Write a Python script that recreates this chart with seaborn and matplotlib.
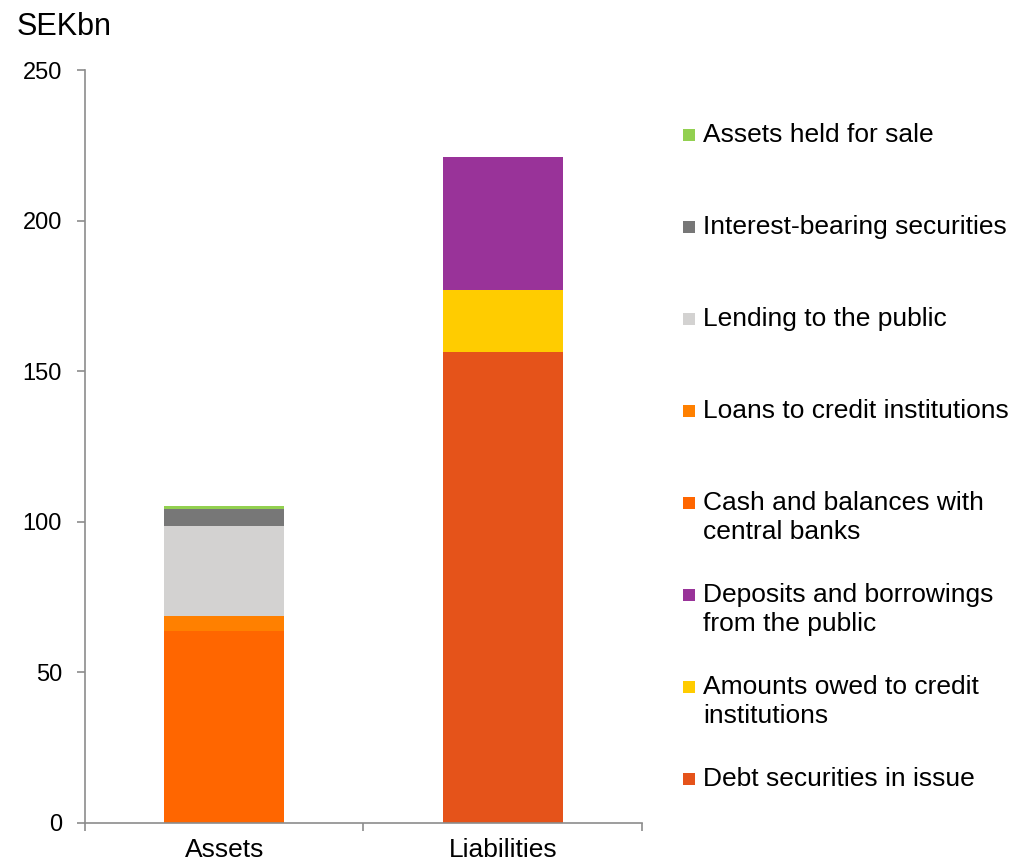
import matplotlib
matplotlib.use("Agg")
import matplotlib.pyplot as plt
from matplotlib.patches import Rectangle, Patch
from matplotlib.legend_handler import HandlerBase
import seaborn as sns
import pandas as pd
import numpy as np

# ---- data ----
sides = ["Assets", "Liabilities"]
series = [
    "Cash and balances with\ncentral banks",
    "Loans to credit institutions",
    "Lending to the public",
    "Interest-bearing securities",
    "Assets held for sale",
    "Debt securities in issue",
    "Amounts owed to credit\ninstitutions",
    "Deposits and borrowings\nfrom the public",
]
assets_vals = [63.7, 5.0, 29.9, 5.6, 1.0, 0, 0, 0]
liab_vals = [0, 0, 0, 0, 0, 156.4, 20.6, 44.1]
colors = ["#FF6600", "#FF8000", "#D3D2D1", "#777777", "#92D050",
          "#E5531A", "#FFCC00", "#993399"]
legend_order = [
    "Assets held for sale",
    "Interest-bearing securities",
    "Lending to the public",
    "Loans to credit institutions",
    "Cash and balances with\ncentral banks",
    "Deposits and borrowings\nfrom the public",
    "Amounts owed to credit\ninstitutions",
    "Debt securities in issue",
]
yticks = [0, 50, 100, 150, 200, 250]

sns.set_theme(style="white")
plt.rcParams["font.family"] = ["Liberation Sans", "DejaVu Sans"]
plt.rcParams["text.color"] = "black"
plt.rcParams["xtick.color"] = "black"
plt.rcParams["ytick.color"] = "black"

fig = plt.figure(figsize=(10.18, 8.67), dpi=100)
ax = fig.add_axes([0.0835, 0.05075, 0.5471, 0.86851])

bottoms = np.zeros(len(sides))
for name, a, l, c in zip(series, assets_vals, liab_vals, colors):
    df = pd.DataFrame({"side": sides, "value": [a, l]})
    sns.barplot(data=df, x="side", y="value", order=sides, color=c,
                bottom=bottoms.copy(), width=0.43, saturation=1,
                linewidth=0, ax=ax, errorbar=None)
    bottoms += np.array([a, l])

ax.set_xlim(-0.5, 1.5)
ax.set_ylim(0, 250)
ax.set_yticks(yticks)
ax.set_xlabel("")
ax.set_ylabel("")

gray = "#8C8C8C"
for s in ["top", "right"]:
    ax.spines[s].set_visible(False)
for s in ["left", "bottom"]:
    ax.spines[s].set_color(gray)
    ax.spines[s].set_linewidth(1.2)

ax.tick_params(axis="y", which="major", direction="out", length=5.5,
               width=1.2, color=gray, labelsize=17, pad=11, left=True,
               labelcolor="black")
ax.set_xticks([-0.5, 0.5, 1.5], minor=True)
ax.tick_params(axis="x", which="minor", direction="out", length=5.5,
               width=1.2, color=gray, bottom=True)
ax.tick_params(axis="x", which="major", length=0, labelsize=19, pad=10.5,
               labelcolor="black")

fig.text(0.0167, 1 - 35 / 867, "SEKbn", fontsize=22, va="baseline",
         ha="left", color="black")

# ---- legend ----
class TopSquare(HandlerBase):
    def create_artists(self, legend, orig_handle, xdescent, ydescent,
                       width, height, fontsize, trans):
        s = 0.45 * fontsize
        cy = -ydescent + height / 2 + 0.56 * fontsize
        r = Rectangle((-xdescent, cy - s / 2), s, s,
                      facecolor=orig_handle.get_facecolor(),
                      edgecolor="none", transform=trans)
        return [r]

cmap = dict(zip(series, colors))
handles = [Patch(facecolor=cmap[n]) for n in legend_order]
labels = [n if "\n" in n else n + "\n" for n in legend_order]
leg = fig.legend(handles, labels, loc="upper left",
                 bbox_to_anchor=(0.671, 0.858), frameon=False,
                 fontsize=19, handlelength=0.45, handletextpad=0.3,
                 labelspacing=1.47, borderpad=0, borderaxespad=0,
                 handler_map={Patch: TopSquare()})
for t in leg.get_texts():
    t.set_linespacing(1.27)
    t.set_color("black")

fig.savefig("out.png", dpi=100)
